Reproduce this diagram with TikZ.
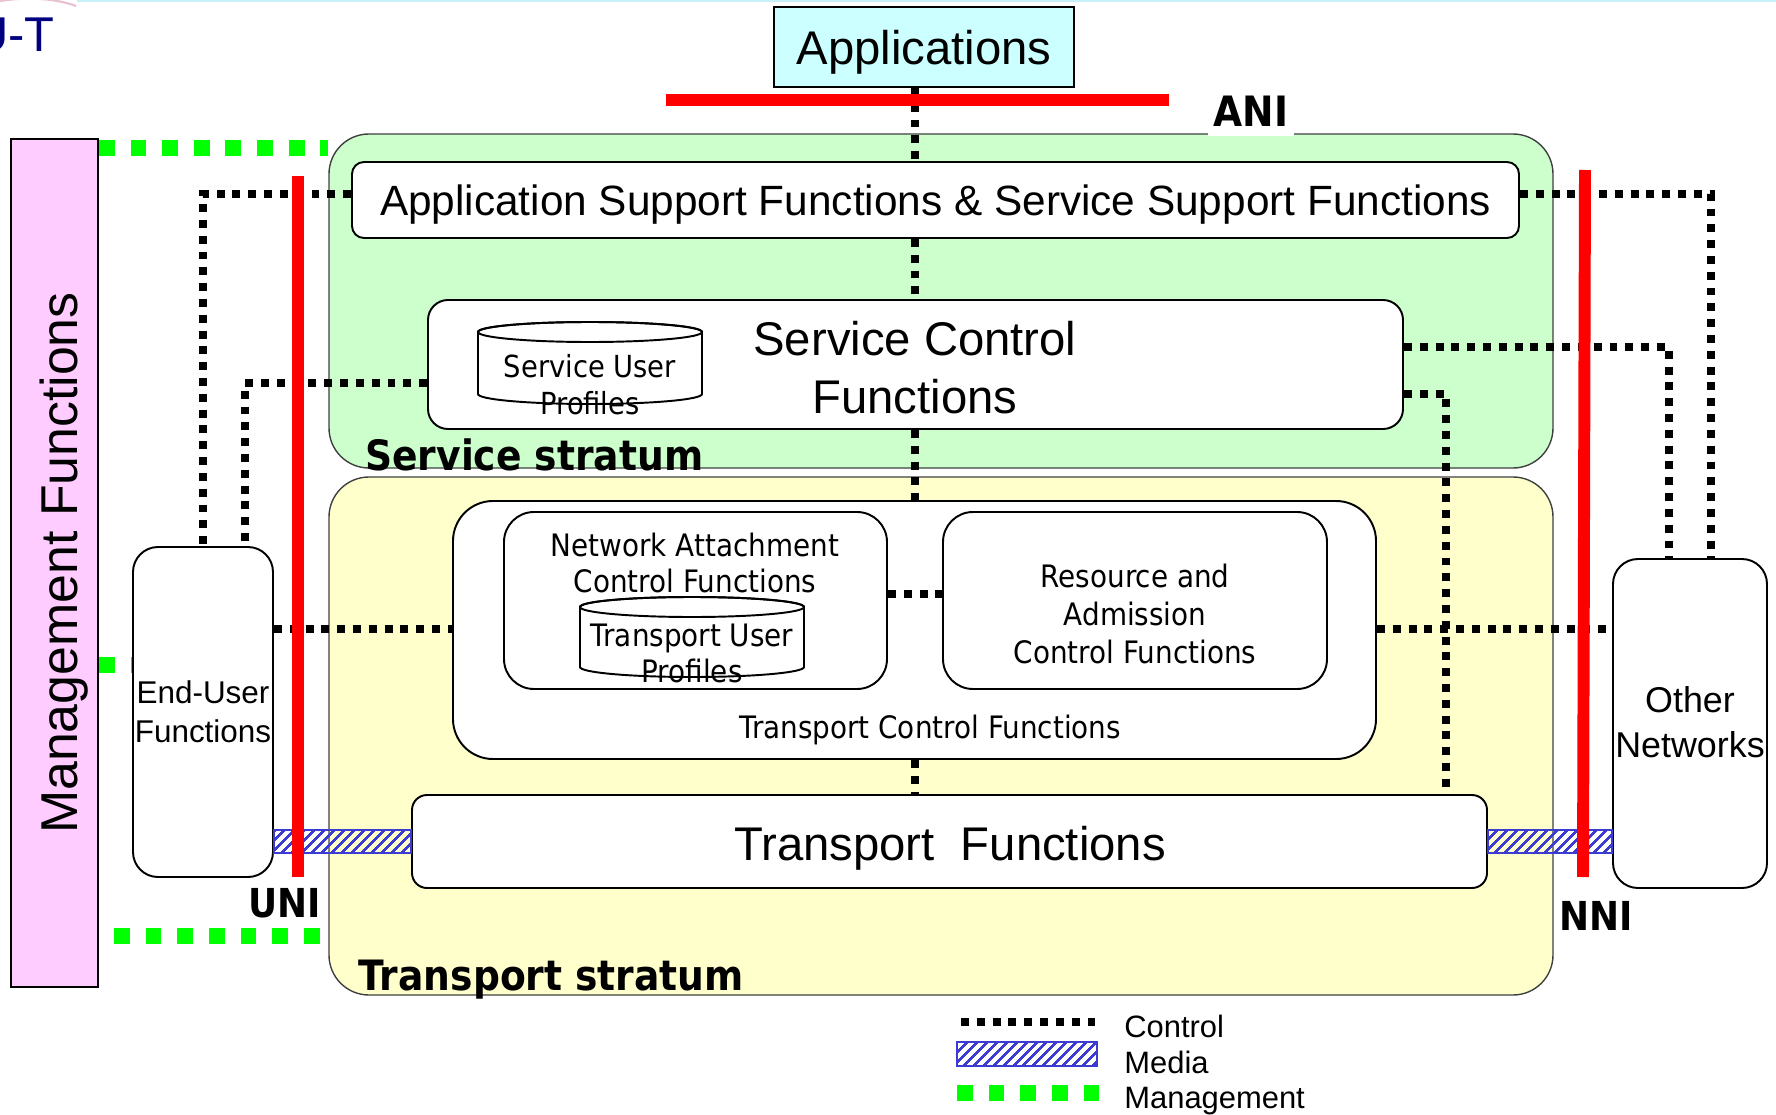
\documentclass[tikz,border=0pt]{standalone}
\usepackage{fontspec}
\setmainfont{Liberation Sans}
\newfontfamily\tah{DejaVu Sans}[FakeStretch=0.9]
\usetikzlibrary{fit,patterns.meta}
\definecolor{svcgreen}{HTML}{CCFFCC}
\definecolor{trayellow}{HTML}{FFFFCC}
\definecolor{mgpink}{HTML}{FFCCFF}
\definecolor{appcyan}{HTML}{CCFFFF}
\definecolor{mgreen}{HTML}{00FF00}
\definecolor{hatchblue}{HTML}{3C3CD2}
\definecolor{itunavy}{HTML}{000080}
\definecolor{topcyan}{HTML}{C8F0F8}
\definecolor{swoosh}{HTML}{E8C0D0}
\tikzset{
  box/.style={draw=black, line width=1.1pt, fill=white, inner sep=0pt},
  stratum/.style={draw=black!75, line width=0.8pt, inner sep=0pt, rounded corners=0.8cm},
  ctrl/.style={draw=black, line width=4.5pt, dash pattern=on 4.5pt off 4.5pt},
  mgmtline/.style={draw=mgreen, line width=9pt, dash pattern=on 9pt off 9pt},
  iface/.style={draw=red, line width=6.8pt},
  media/.style={draw=hatchblue, line width=1.1pt, pattern={Lines[angle=45,distance=4pt,line width=1.5pt]}, pattern color=hatchblue},
  lab/.style={inner sep=0pt, align=center},
  tahtext/.style={font=\tah\fontsize{17.6pt}{21pt}\selectfont, align=center, inner sep=0pt},
  boldlab/.style={font=\tah\bfseries\fontsize{22.7pt}{26pt}\selectfont, inner sep=0pt, text depth=0pt},
  stratlab/.style={font=\tah\bfseries\fontsize{23.8pt}{28pt}\selectfont, inner sep=0pt, anchor=base west},
  legtext/.style={font=\fontsize{17.6pt}{20pt}\selectfont, inner sep=0pt, anchor=base west},
  cyl/.style={fill=white, draw=black, line width=1.1pt},
}
\begin{document}
\begin{tikzpicture}[x=0.02cm, y=-0.02cm]
\useasboundingbox (0,0) rectangle (1776,1115);
\clip (0,0) rectangle (1776,1115);
% header remnants
\fill[topcyan] (77,0) rectangle (1776,2.5);
\draw[swoosh, line width=1.2pt] (0,1) .. controls (25,-3) and (55,-2) .. (76,6);
\node (itu) [anchor=base east, inner sep=0pt, text=itunavy, font=\fontsize{27.8pt}{30pt}\selectfont] at (55,52) {U-T};

% management functions
\node (mgmt) [draw=black, line width=1.1pt, fill=mgpink, inner sep=0pt, fit={(11,139) (98,987)}] {};
\node (mgmtlab) [rotate=90, inner sep=0pt, text depth=0pt, font=\fontsize{29.5pt}{32pt}\selectfont] at (58.5,563) {Management Functions};

% strata
\node (svc) [stratum, fill=svcgreen, fit={(329,134) (1553,468)}] {};
\node (trs) [stratum, fill=trayellow, fit={(329,477) (1553,995)}] {};

% functional boxes
\node (apps) [box, fill=appcyan, fit={(774,7) (1074,87)}] {};
\node (asf) [box, rounded corners=0.24cm, fit={(352,162) (1519,238)}] {};
\node (scf) [box, rounded corners=0.4cm, fit={(428,300) (1403,429)}] {};
\node (tcf) [box, rounded corners=0.8cm, fit={(453,501) (1376,759)}] {};
\node (nacf) [box, rounded corners=0.6cm, fit={(504,512) (887,689)}] {};
\node (racf) [box, rounded corners=0.6cm, fit={(943,512) (1327,689)}] {};
\node (tf) [box, rounded corners=0.3cm, fit={(412,795) (1487,888)}] {};
\node (eu) [box, rounded corners=0.5cm, fit={(133,547) (273,877)}] {};
\node (on) [box, rounded corners=0.5cm, fit={(1613,559) (1767,888)}] {};

% box labels
\node (appslab) [lab, anchor=base, font=\fontsize{26.9pt}{32pt}\selectfont] at (924,65) {Applications};
\node (asflab) [lab, anchor=base, font=\fontsize{24.1pt}{28pt}\selectfont] at (935.5,215) {Application Support Functions \& Service Support Functions};
\node (scflab) [lab, font=\fontsize{26.9pt}{32.9pt}\selectfont] at (915,367.5) {Service Control\\Functions};
\node (tflab) [lab, anchor=base, font=\fontsize{26.9pt}{32pt}\selectfont] at (950,860) {Transport\ \ Functions};
\node (eulab) [lab, font=\fontsize{17.9pt}{22.1pt}\selectfont] at (203,712) {End-User\\Functions};
\node (onlab) [lab, font=\fontsize{20.4pt}{25.5pt}\selectfont] at (1690,722) {Other\\Networks};
\node (tcflab) [tahtext, anchor=base] at (930,738) {Transport Control Functions};
\node (nacflab) [tahtext, font=\tah\fontsize{17.6pt}{21pt}\selectfont] at (695,563) {Network Attachment\\Control Functions};
\node (racflab) [tahtext, font=\tah\fontsize{17.6pt}{21.5pt}\selectfont] at (1135,614) {Resource and\\Admission\\Control Functions};

% Service User Profiles cylinder
\filldraw[cyl] (478,332) -- (478,394) arc[start angle=180, end angle=0, x radius=112, y radius=10] -- (702,332) arc[start angle=0, end angle=-180, x radius=112, y radius=10] -- cycle;
\draw[line width=1.1pt] (590,332) ellipse [x radius=112, y radius=10];
\node (suplab) [tahtext, font=\tah\fontsize{17.3pt}{21pt}\selectfont] at (590,385) {Service User\\Profiles};

% Transport User Profiles cylinder
\filldraw[cyl] (580,607) -- (580,667) arc[start angle=180, end angle=0, x radius=112, y radius=10] -- (804,607) arc[start angle=0, end angle=-180, x radius=112, y radius=10] -- cycle;
\draw[line width=1.1pt] (692,607) ellipse [x radius=112, y radius=10];
\node (tuplab) [tahtext, font=\tah\fontsize{17.6pt}{20.4pt}\selectfont] at (692,653.5) {Transport User\\Profiles};

% stratum labels
\node (svclab) [stratlab] at (365,470) {Service stratum};
\node (trslab) [stratlab] at (358,990) {Transport stratum};

% helper coordinates
\coordinate (spine) at (915,0);
\coordinate (y148) at (0,148);
\coordinate (y194) at (0,194);
\coordinate (y347) at (0,347);
\coordinate (y383) at (0,383);
\coordinate (y394) at (0,394);
\coordinate (y594) at (0,594);
\coordinate (y629) at (0,629);
\coordinate (y665) at (0,665);
\coordinate (y830) at (0,830);
\coordinate (y853) at (0,853);
\coordinate (y936) at (0,936);
\coordinate (x203) at (203,0);
\coordinate (x245) at (245,0);
\coordinate (x1446) at (1446,0);
\coordinate (x1669) at (1669,0);
\coordinate (x1711) at (1711,0);
\coordinate (mgstart) at (114,936);

% management connectors
\draw[mgmtline] (mgmt.east |- y148) -- (svc.west |- y148);
\draw[mgmtline] (mgmt.east |- y665) -- (eu.west |- y665);
\draw[mgmtline] (mgstart) -- (trs.west |- y936);

% control connectors
\draw[ctrl] (apps.south -| spine) -- (asf.north -| spine);
\draw[ctrl] (asf.south -| spine) -- (scf.north -| spine);
\draw[ctrl] (scf.south -| spine) -- (tcf.north -| spine);
\draw[ctrl] (tcf.south -| spine) -- (tf.north -| spine);
\draw[ctrl] (nacf.east |- y594) -- (racf.west |- y594);
\draw[ctrl] (eu.east |- y629) -- (tcf.west |- y629);
\draw[ctrl] (tcf.east |- y629) -- (on.west |- y629);
\draw[ctrl] (asf.west |- y194) -| (eu.north -| x203);
\draw[ctrl] (scf.west |- y383) -| (eu.north -| x245);
\draw[ctrl] (asf.east |- y194) -| (on.north -| x1711);
\draw[ctrl] (scf.east |- y347) -| (on.north -| x1669);
\draw[ctrl] (scf.east |- y394) -| (tf.north -| x1446);

% media connectors
\path[media] (eu.east |- y830) rectangle (tf.west |- y853);
\path[media] (tf.east |- y830) rectangle (on.west |- y853);

% interfaces
\draw[iface] (298,176) -- (298,877);
\draw[iface] (1585,170) -- (1583,877);
\draw[iface] (666,100) -- (1169,100);
\node (uni) [boldlab] at (285,902.5) {UNI};
\node (nni) [boldlab] at (1596,915.5) {NNI};
\node (ani) [boldlab, font=\tah\bfseries\fontsize{23.8pt}{28pt}\selectfont, fill=white, inner xsep=3pt, minimum height=1cm] at (1251,111) {ANI};

% legend
\draw[ctrl] (961,1022) -- (1097,1022);
\path[media] (957,1042) rectangle (1097,1066);
\draw[mgmtline] (957,1093) -- (1101,1093);
\node (legc) [legtext] at (1124,1037) {Control};
\node (legm) [legtext] at (1124,1073) {Media};
\node (legg) [legtext] at (1124,1108) {Management};
\end{tikzpicture}
\end{document}
